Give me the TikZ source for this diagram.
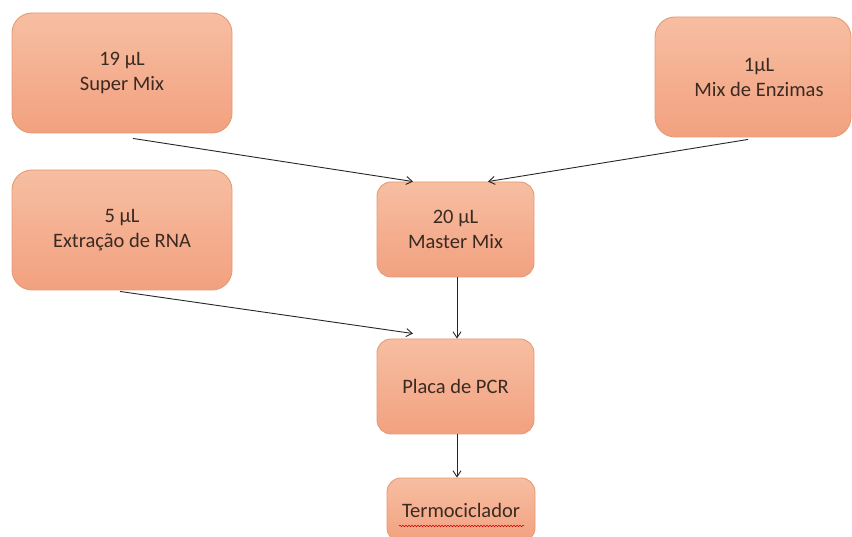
\documentclass[tikz,border=0pt]{standalone}
\usepackage{fontspec}
\setmainfont{Carlito}
\usetikzlibrary{calc,arrows.meta,decorations.pathmorphing}
\definecolor{boxtop}{HTML}{F7BEA2}
\definecolor{boxbot}{HTML}{F2A17F}
\definecolor{boxline}{HTML}{E59A74}
\definecolor{txt}{HTML}{3B2A22}
\tikzset{
  flowbox/.style={draw=boxline, line width=0.9pt, rounded corners=20pt,
    top color=boxtop, bottom color=boxbot, text=txt, align=center,
    font=\fontsize{20.5}{25}\selectfont, inner sep=0pt},
  smallbox/.style={flowbox, rounded corners=14pt},
  conn/.style={-{Straight Barb[length=6pt,width=8pt]}, line width=0.9pt, draw=black!85}
}
\begin{document}
\begin{tikzpicture}[x=1pt,y=1pt]
\useasboundingbox (0,0) rectangle (852,536);
\clip (0,0) rectangle (852,536);
\node[flowbox, minimum width=220pt, minimum height=120pt] (sm) at (122,463) {19 µL\\Super Mix};
\node[flowbox, minimum width=196pt, minimum height=120pt] (me) at (753,459) {\hspace*{12pt}1µL\\\hspace*{12pt}Mix de Enzimas};
\node[flowbox, minimum width=220pt, minimum height=120pt] (ex) at (122,306) {5 µL\\Extração de RNA};
\node[smallbox, minimum width=157pt, minimum height=95pt] (mm) at (455.5,306.5) {20 µL\\Master Mix};
\node[smallbox, minimum width=157pt, minimum height=95pt] (pc) at (455.5,149.5) {Placa de PCR};
\node[smallbox, minimum width=148pt, minimum height=64pt] (tc) at (461,26) {Termociclador};
\coordinate (smout) at ($(sm.south)+(11,-5)$);
\coordinate (meout) at ($(me.south)+(-5,-2)$);
\coordinate (exout) at ($(ex.south)+(-2,-1)$);
\draw[conn] (smout) -- ($(mm.north)+(-42.5,0)$);
\draw[conn] (meout) -- ($(mm.north)+(32.5,0)$);
\draw[conn] (exout) -- ($(pc.north)+(-42.5,5)$);
\draw[conn] ($(mm.south)+(1.5,0)$) -- ($(pc.north)+(1.5,0)$);
\draw[conn] ($(pc.south)+(1.5,0)$) -- ($(tc.north)+(-4,0)$);
\draw[red!80!black, line width=0.5pt, decorate, decoration={snake, amplitude=0.8pt, segment length=3pt}]
  ($(tc.center)+(-62,-16)$) -- ($(tc.center)+(63,-16)$);
\end{tikzpicture}
\end{document}
